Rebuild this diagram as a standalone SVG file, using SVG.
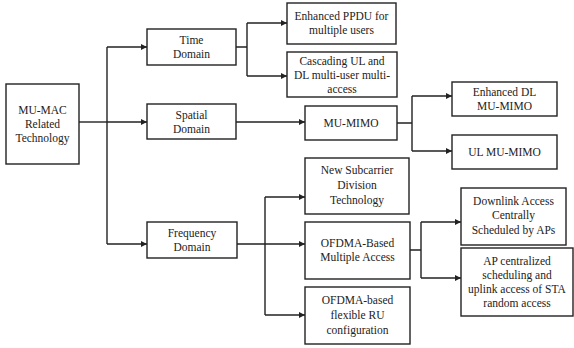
<svg xmlns="http://www.w3.org/2000/svg" width="574" height="348" viewBox="0 0 574 348">
  <style>
    .box { fill: #ffffff; stroke: #222222; stroke-width: 1.4; }
    .lbl { font-family: "Liberation Serif", "Times New Roman", serif; font-size: 11.5px; fill: #222222; text-anchor: middle; }
    .wire { fill: none; stroke: #222222; stroke-width: 1.4; }
  </style>
  <defs>
    <marker id="arrow" viewBox="0 0 10 10" refX="10" refY="5" markerWidth="6" markerHeight="6" markerUnits="userSpaceOnUse" orient="auto">
      <path d="M0,0 L10,5 L0,10 z" fill="#222222"/>
    </marker>
  </defs>

  <g id="connectors">
    <!-- root to domains -->
    <path class="wire" d="M79,122 H107"/>
    <path class="wire" d="M107,47 V244"/>
    <path class="wire" d="M107,47 H147" marker-end="url(#arrow)"/>
    <path class="wire" d="M107,122 H147" marker-end="url(#arrow)"/>
    <path class="wire" d="M107,244 H147" marker-end="url(#arrow)"/>
    <!-- time domain -->
    <path class="wire" d="M236,47 H247 M247,23 V76"/>
    <path class="wire" d="M247,23 H287" marker-end="url(#arrow)"/>
    <path class="wire" d="M247,76 H287" marker-end="url(#arrow)"/>
    <!-- spatial domain -->
    <path class="wire" d="M236,122 H305" marker-end="url(#arrow)"/>
    <path class="wire" d="M397,123 H412 M412,96 V151"/>
    <path class="wire" d="M412,96 H452" marker-end="url(#arrow)"/>
    <path class="wire" d="M412,151 H452" marker-end="url(#arrow)"/>
    <!-- frequency domain -->
    <path class="wire" d="M237,244 H265 M265,197 V315"/>
    <path class="wire" d="M265,197 H305" marker-end="url(#arrow)"/>
    <path class="wire" d="M265,244 H305" marker-end="url(#arrow)"/>
    <path class="wire" d="M265,315 H305" marker-end="url(#arrow)"/>
    <!-- OFDMA access -->
    <path class="wire" d="M410,250 H421 M421,222 V278"/>
    <path class="wire" d="M421,222 H461" marker-end="url(#arrow)"/>
    <path class="wire" d="M421,278 H461" marker-end="url(#arrow)"/>
  </g>

  <g id="root">
    <rect class="box" x="6" y="84" width="73" height="80"/>
    <text class="lbl" x="42.5" y="114">MU-MAC</text>
    <text class="lbl" x="42.5" y="128">Related</text>
    <text class="lbl" x="42.5" y="142">Technology</text>
  </g>

  <g id="time-domain">
    <rect class="box" x="147" y="29" width="89" height="36"/>
    <text class="lbl" x="191.5" y="44">Time</text>
    <text class="lbl" x="191.5" y="58">Domain</text>
  </g>

  <g id="spatial-domain">
    <rect class="box" x="147" y="104" width="89" height="35"/>
    <text class="lbl" x="191.5" y="119">Spatial</text>
    <text class="lbl" x="191.5" y="133">Domain</text>
  </g>

  <g id="frequency-domain">
    <rect class="box" x="147" y="222" width="90" height="36"/>
    <text class="lbl" x="192" y="237">Frequency</text>
    <text class="lbl" x="192" y="251">Domain</text>
  </g>

  <g id="enhanced-ppdu">
    <rect class="box" x="287" y="3" width="109" height="41"/>
    <text class="lbl" x="341.5" y="20">Enhanced PPDU for</text>
    <text class="lbl" x="341.5" y="34">multiple users</text>
  </g>

  <g id="cascading">
    <rect class="box" x="287" y="52" width="110" height="45"/>
    <text class="lbl" x="342" y="65">Cascading UL and</text>
    <text class="lbl" x="342" y="79">DL multi-user multi-</text>
    <text class="lbl" x="342" y="93">access</text>
  </g>

  <g id="mu-mimo">
    <rect class="box" x="305" y="106" width="92" height="34"/>
    <text class="lbl" x="351" y="127">MU-MIMO</text>
  </g>

  <g id="enhanced-dl-mu-mimo">
    <rect class="box" x="452" y="82" width="105" height="34"/>
    <text class="lbl" x="504.5" y="96">Enhanced DL</text>
    <text class="lbl" x="504.5" y="110">MU-MIMO</text>
  </g>

  <g id="ul-mu-mimo">
    <rect class="box" x="452" y="135" width="105" height="34"/>
    <text class="lbl" x="504.5" y="156">UL MU-MIMO</text>
  </g>

  <g id="new-subcarrier">
    <rect class="box" x="305" y="158" width="104" height="56"/>
    <text class="lbl" x="357" y="174">New Subcarrier</text>
    <text class="lbl" x="357" y="189">Division</text>
    <text class="lbl" x="357" y="204">Technology</text>
  </g>

  <g id="ofdma-multiple-access">
    <rect class="box" x="305" y="222" width="105" height="57"/>
    <text class="lbl" x="357.5" y="247">OFDMA-Based</text>
    <text class="lbl" x="357.5" y="261">Multiple Access</text>
  </g>

  <g id="ofdma-flexible-ru">
    <rect class="box" x="305" y="287" width="105" height="57"/>
    <text class="lbl" x="357.5" y="304">OFDMA-based</text>
    <text class="lbl" x="357.5" y="319">flexible RU</text>
    <text class="lbl" x="357.5" y="334">configuration</text>
  </g>

  <g id="downlink-central">
    <rect class="box" x="461" y="188" width="105" height="57"/>
    <text class="lbl" x="513.5" y="205">Downlink Access</text>
    <text class="lbl" x="513.5" y="219">Centrally</text>
    <text class="lbl" x="513.5" y="234">Scheduled by APs</text>
  </g>

  <g id="ap-centralized">
    <rect class="box" x="461" y="248" width="112" height="68"/>
    <text class="lbl" x="517" y="265">AP centralized</text>
    <text class="lbl" x="517" y="279">scheduling and</text>
    <text class="lbl" x="517" y="293">uplink access of STA</text>
    <text class="lbl" x="517" y="307">random access</text>
  </g>
</svg>
